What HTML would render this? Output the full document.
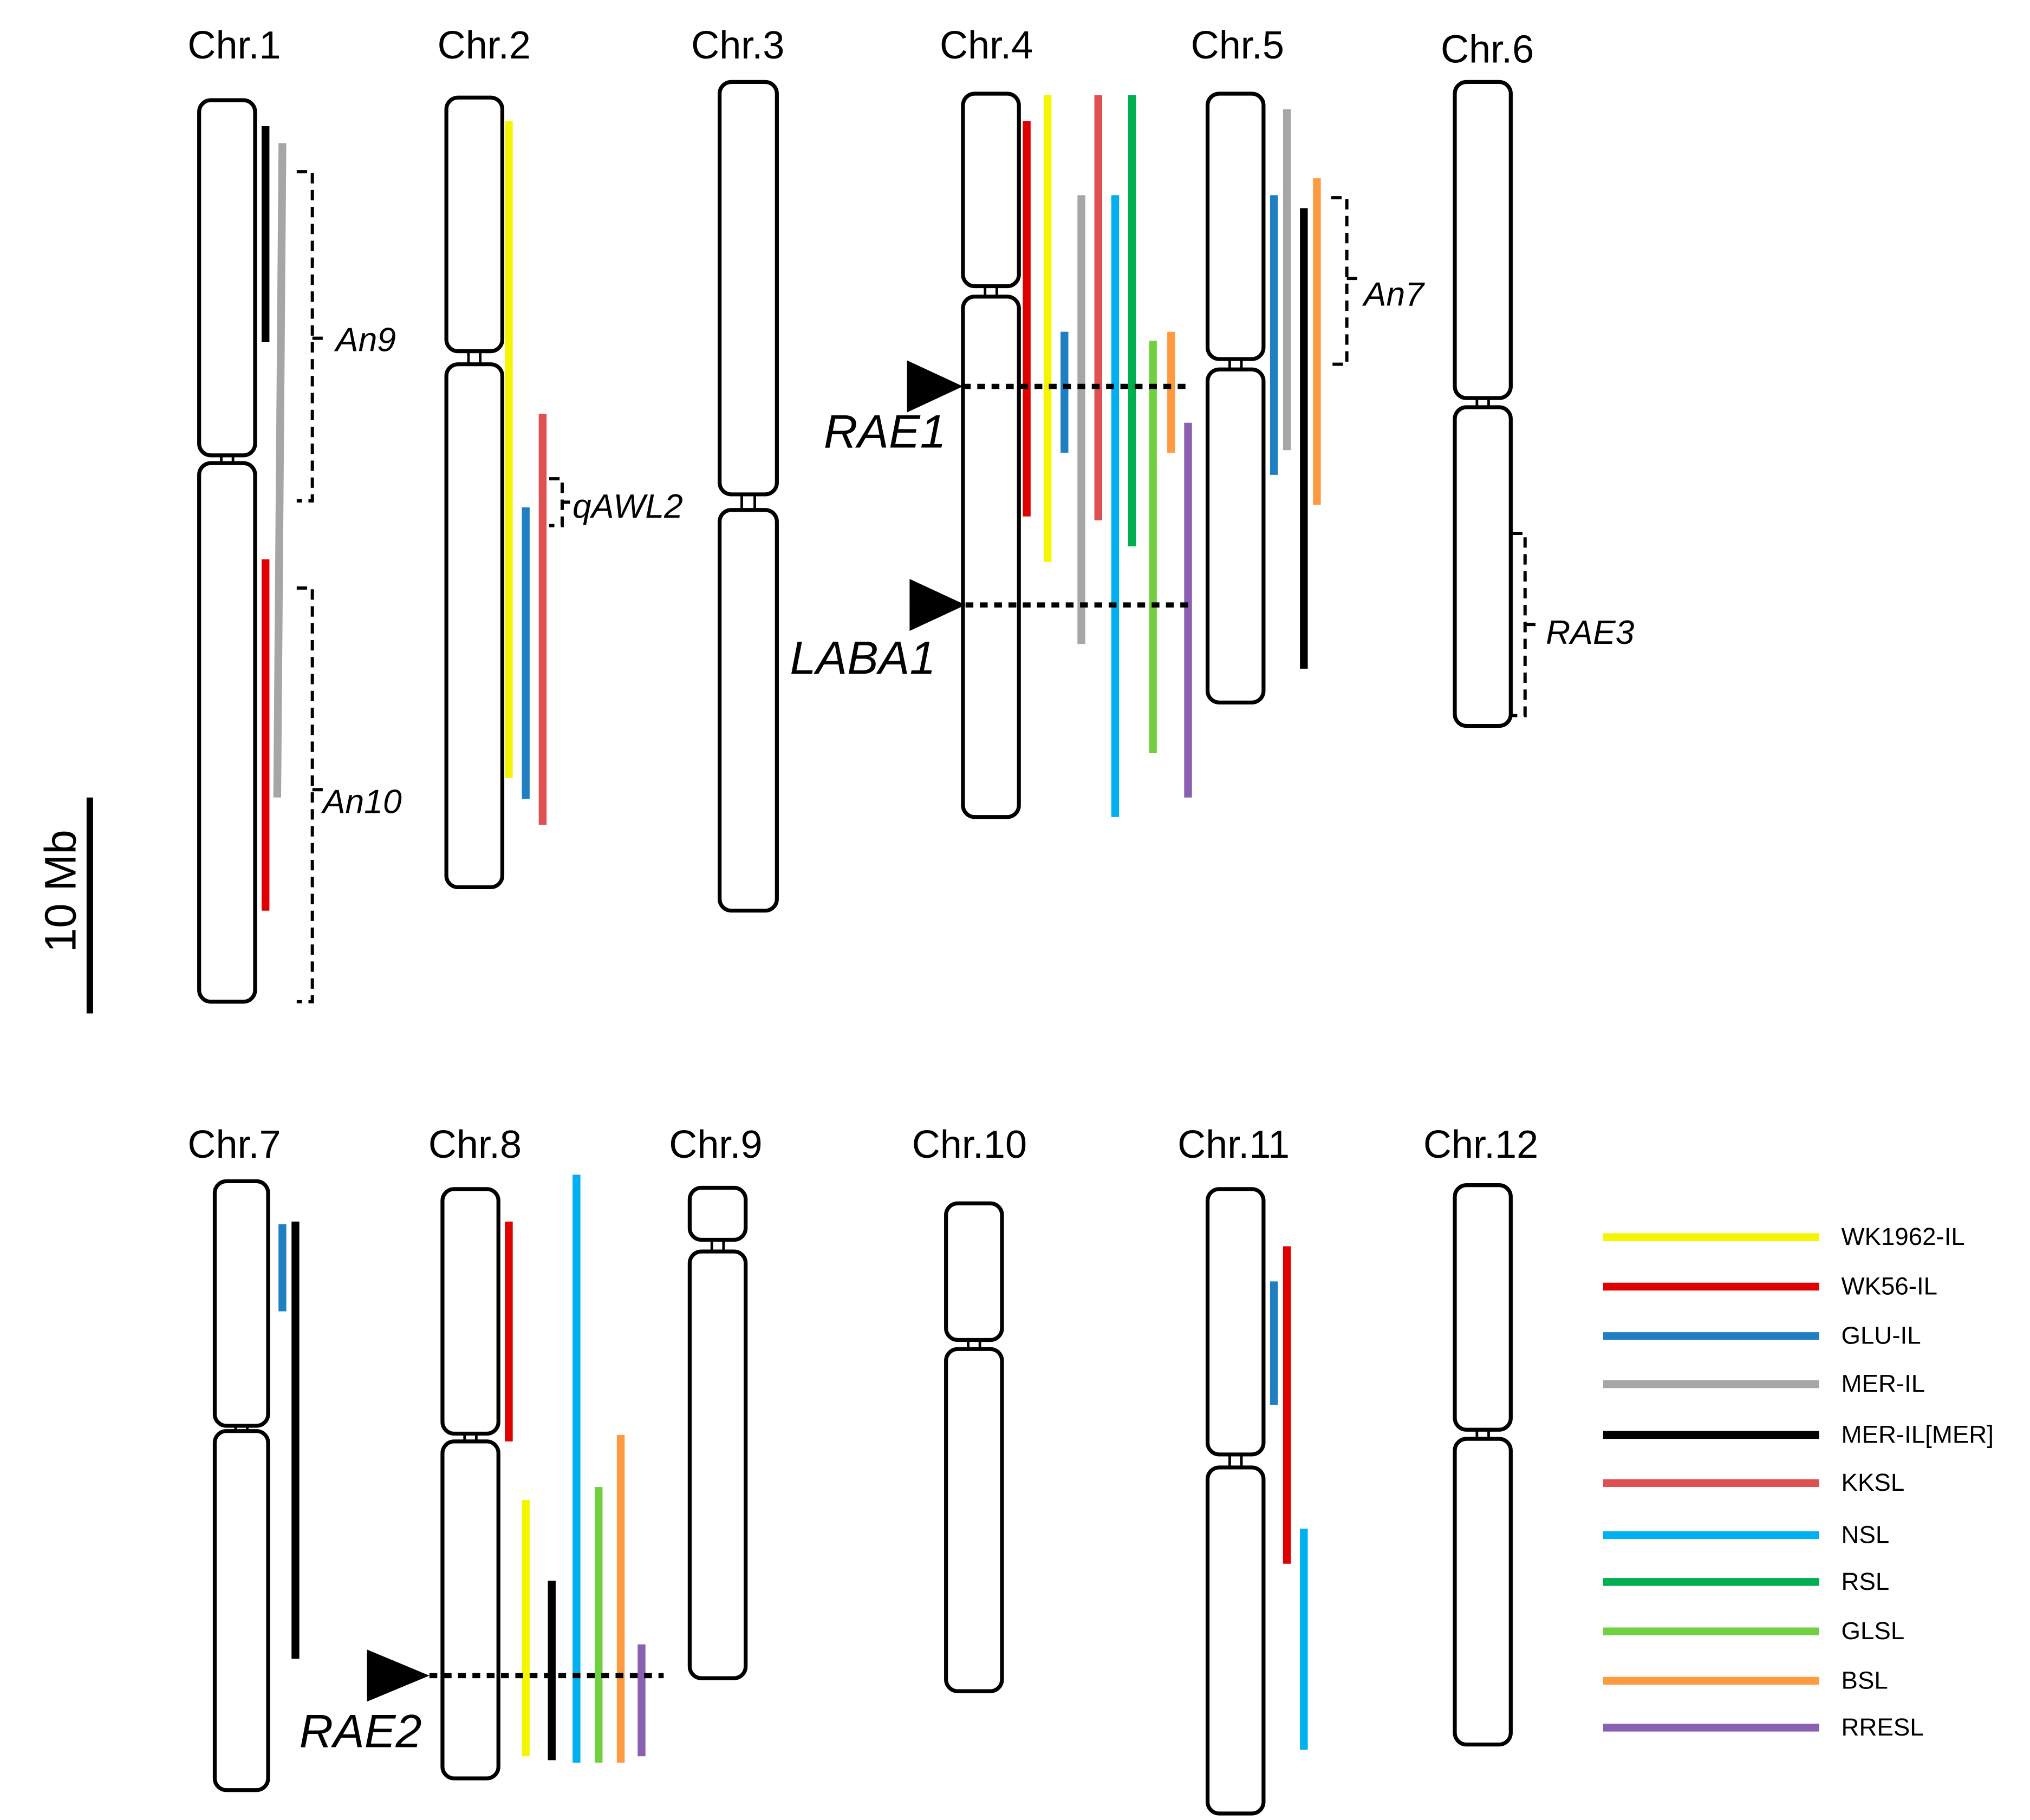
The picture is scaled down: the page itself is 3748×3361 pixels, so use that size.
<!DOCTYPE html>
<html><head><meta charset="utf-8"><style>
html,body{margin:0;padding:0;background:#fff}
svg{display:block}
text{font-family:"Liberation Sans",sans-serif}
.it{font-style:italic}
</style></head><body>
<svg width="3748" height="3361" viewBox="0 0 1560 1399" xmlns="http://www.w3.org/2000/svg">
<rect width="1560" height="1399" fill="#fff"/>
<g font-size="30" text-anchor="middle" fill="#000">
<text x="180" y="45">Chr.1</text><text x="372" y="45">Chr.2</text><text x="567" y="45">Chr.3</text>
<text x="758" y="45">Chr.4</text><text x="951" y="45">Chr.5</text><text x="1143" y="48">Chr.6</text>
<text x="180" y="890">Chr.7</text><text x="365" y="890">Chr.8</text><text x="550" y="890">Chr.9</text>
<text x="745" y="890">Chr.10</text><text x="948" y="890">Chr.11</text><text x="1138" y="890">Chr.12</text>
</g>
<g fill="#fff" stroke="#000" stroke-width="3">
<!-- chr1 -->
<rect x="153" y="77" width="43" height="273" rx="9"/><rect x="153" y="356" width="43" height="414" rx="9"/>
<rect x="343" y="75" width="43" height="195" rx="9"/><rect x="343" y="280" width="43" height="402" rx="9"/>
<rect x="553" y="63" width="44" height="317" rx="9"/><rect x="553" y="392" width="44" height="308" rx="9"/>
<rect x="740" y="72" width="43" height="148" rx="9"/><rect x="740" y="228" width="43" height="400" rx="9"/>
<rect x="928" y="72" width="43" height="204" rx="9"/><rect x="928" y="284" width="43" height="256" rx="9"/>
<rect x="1118" y="63" width="43" height="243" rx="9"/><rect x="1118" y="313" width="43" height="245" rx="9"/>
<rect x="165" y="908" width="41" height="188" rx="9"/><rect x="165" y="1100" width="41" height="276" rx="9"/>
<rect x="340" y="914" width="43" height="188" rx="9"/><rect x="340" y="1108" width="43" height="259" rx="9"/>
<rect x="530" y="913" width="43" height="40" rx="9"/><rect x="530" y="962" width="43" height="328" rx="9"/>
<rect x="727" y="925" width="43" height="105" rx="9"/><rect x="727" y="1037" width="43" height="263" rx="9"/>
<rect x="928" y="914" width="43" height="204" rx="9"/><rect x="928" y="1128" width="43" height="266" rx="9"/>
<rect x="1118" y="911" width="43" height="188" rx="9"/><rect x="1118" y="1106" width="43" height="235" rx="9"/>
</g>
<g stroke="#000" stroke-width="2">
<path d="M170 350v6M179 350v6M360 270v10M369 270v10M570 380v12M580 380v12M757 220v8M766 220v8M945 276v8M954 276v8M1135 306v7M1144 306v7M181 1096v4M190 1096v4M357 1102v6M366 1102v6M547 953v9M556 953v9M744 1030v7M753 1030v7M945 1118v10M954 1118v10M1135 1099v7M1144 1099v7"/>
</g>
<g stroke-width="6" fill="none">
<path d="M204 97V263" stroke="#000"/>
<path d="M217 110L213 613" stroke="#a6a6a6"/>
<path d="M204 430V700" stroke="#e00000"/>
<path d="M391 93V598" stroke="#f5f500"/>
<path d="M404 390V614" stroke="#1f7fc0"/>
<path d="M417 318V634" stroke="#e05050"/>
<path d="M789 93V397" stroke="#e00000"/>
<path d="M805 73V432" stroke="#f5f500"/>
<path d="M818 255V348" stroke="#1f7fc0"/>
<path d="M831 150V495" stroke="#a6a6a6"/>
<path d="M844 73V400" stroke="#e05050"/>
<path d="M857 150V628" stroke="#00b0f0"/>
<path d="M870 73V420" stroke="#00b050"/>
<path d="M886 262V579" stroke="#70d040"/>
<path d="M900 255V348" stroke="#ff9a40"/>
<path d="M913 325V613" stroke="#8a60b0"/>
<path d="M979 150V365" stroke="#1f7fc0"/>
<path d="M989 84V346" stroke="#a6a6a6"/>
<path d="M1002 160V514" stroke="#000"/>
<path d="M1012 137V388" stroke="#ff9a40"/>
<path d="M217 941V1008" stroke="#1f7fc0"/>
<path d="M227 939V1275" stroke="#000"/>
<path d="M391 939V1108" stroke="#e00000"/>
<path d="M404 1153V1350" stroke="#f5f500"/>
<path d="M424 1215V1353" stroke="#000"/>
<path d="M443 903V1355" stroke="#00b0f0"/>
<path d="M460 1143V1355" stroke="#70d040"/>
<path d="M477 1103V1355" stroke="#ff9a40"/>
<path d="M493 1264V1350" stroke="#8a60b0"/>
<path d="M979 985V1080" stroke="#1f7fc0"/>
<path d="M989 958V1202" stroke="#e00000"/>
<path d="M1002 1175V1345" stroke="#00b0f0"/>
</g>
<g stroke="#000" stroke-width="4" stroke-dasharray="6 5" fill="none">
<path d="M740 297H913"/><path d="M742 465H918"/><path d="M330 1288H510"/>
</g>
<g fill="#000">
<polygon points="740,297 697,277 697,317"/>
<polygon points="742,465 699,445 699,485"/>
<polygon points="330,1288 282,1268 282,1308"/>
</g>
<g stroke="#000" stroke-width="2.5" stroke-dasharray="8 5" fill="none">
<path d="M228 132H240V385H228M240 260H248"/>
<path d="M228 452H240V770H228M240 607H248"/>
<path d="M422 368H432V404H422M432 386H438"/>
<path d="M1023 152H1035V280H1023M1035 214H1043"/>
<path d="M1162 410H1172V550H1162M1172 480H1180"/>
</g>
<g class="it" fill="#000" font-size="26">
<text x="258" y="270">An9</text><text x="248" y="625">An10</text><text x="440" y="398">qAWL2</text>
<text x="1048" y="235">An7</text><text x="1188" y="495">RAE3</text>
</g>
<g class="it" fill="#000" font-size="36">
<text x="633" y="344">RAE1</text><text x="607" y="518">LABA1</text><text x="230" y="1343">RAE2</text>
</g>
<path d="M69 613V779" stroke="#000" stroke-width="5"/>
<text x="0" y="0" font-size="34" text-anchor="middle" transform="translate(58,685) rotate(-90)">10 Mb</text>
<g stroke-width="6">
<path d="M1232 951H1398" stroke="#f5f500"/>
<path d="M1232 989H1398" stroke="#e00000"/>
<path d="M1232 1027H1398" stroke="#1f7fc0"/>
<path d="M1232 1064H1398" stroke="#a6a6a6"/>
<path d="M1232 1103H1398" stroke="#000"/>
<path d="M1232 1140H1398" stroke="#e05050"/>
<path d="M1232 1180H1398" stroke="#00b0f0"/>
<path d="M1232 1216H1398" stroke="#00b050"/>
<path d="M1232 1254H1398" stroke="#70d040"/>
<path d="M1232 1292H1398" stroke="#ff9a40"/>
<path d="M1232 1328H1398" stroke="#8a60b0"/>
</g>
<g font-size="19" fill="#000">
<text x="1415" y="957">WK1962-IL</text><text x="1415" y="995">WK56-IL</text><text x="1415" y="1033">GLU-IL</text>
<text x="1415" y="1070">MER-IL</text><text x="1415" y="1109">MER-IL[MER]</text><text x="1415" y="1146">KKSL</text>
<text x="1415" y="1186">NSL</text><text x="1415" y="1222">RSL</text><text x="1415" y="1260">GLSL</text>
<text x="1415" y="1298">BSL</text><text x="1415" y="1334">RRESL</text>
</g>
</svg>
</body></html>
